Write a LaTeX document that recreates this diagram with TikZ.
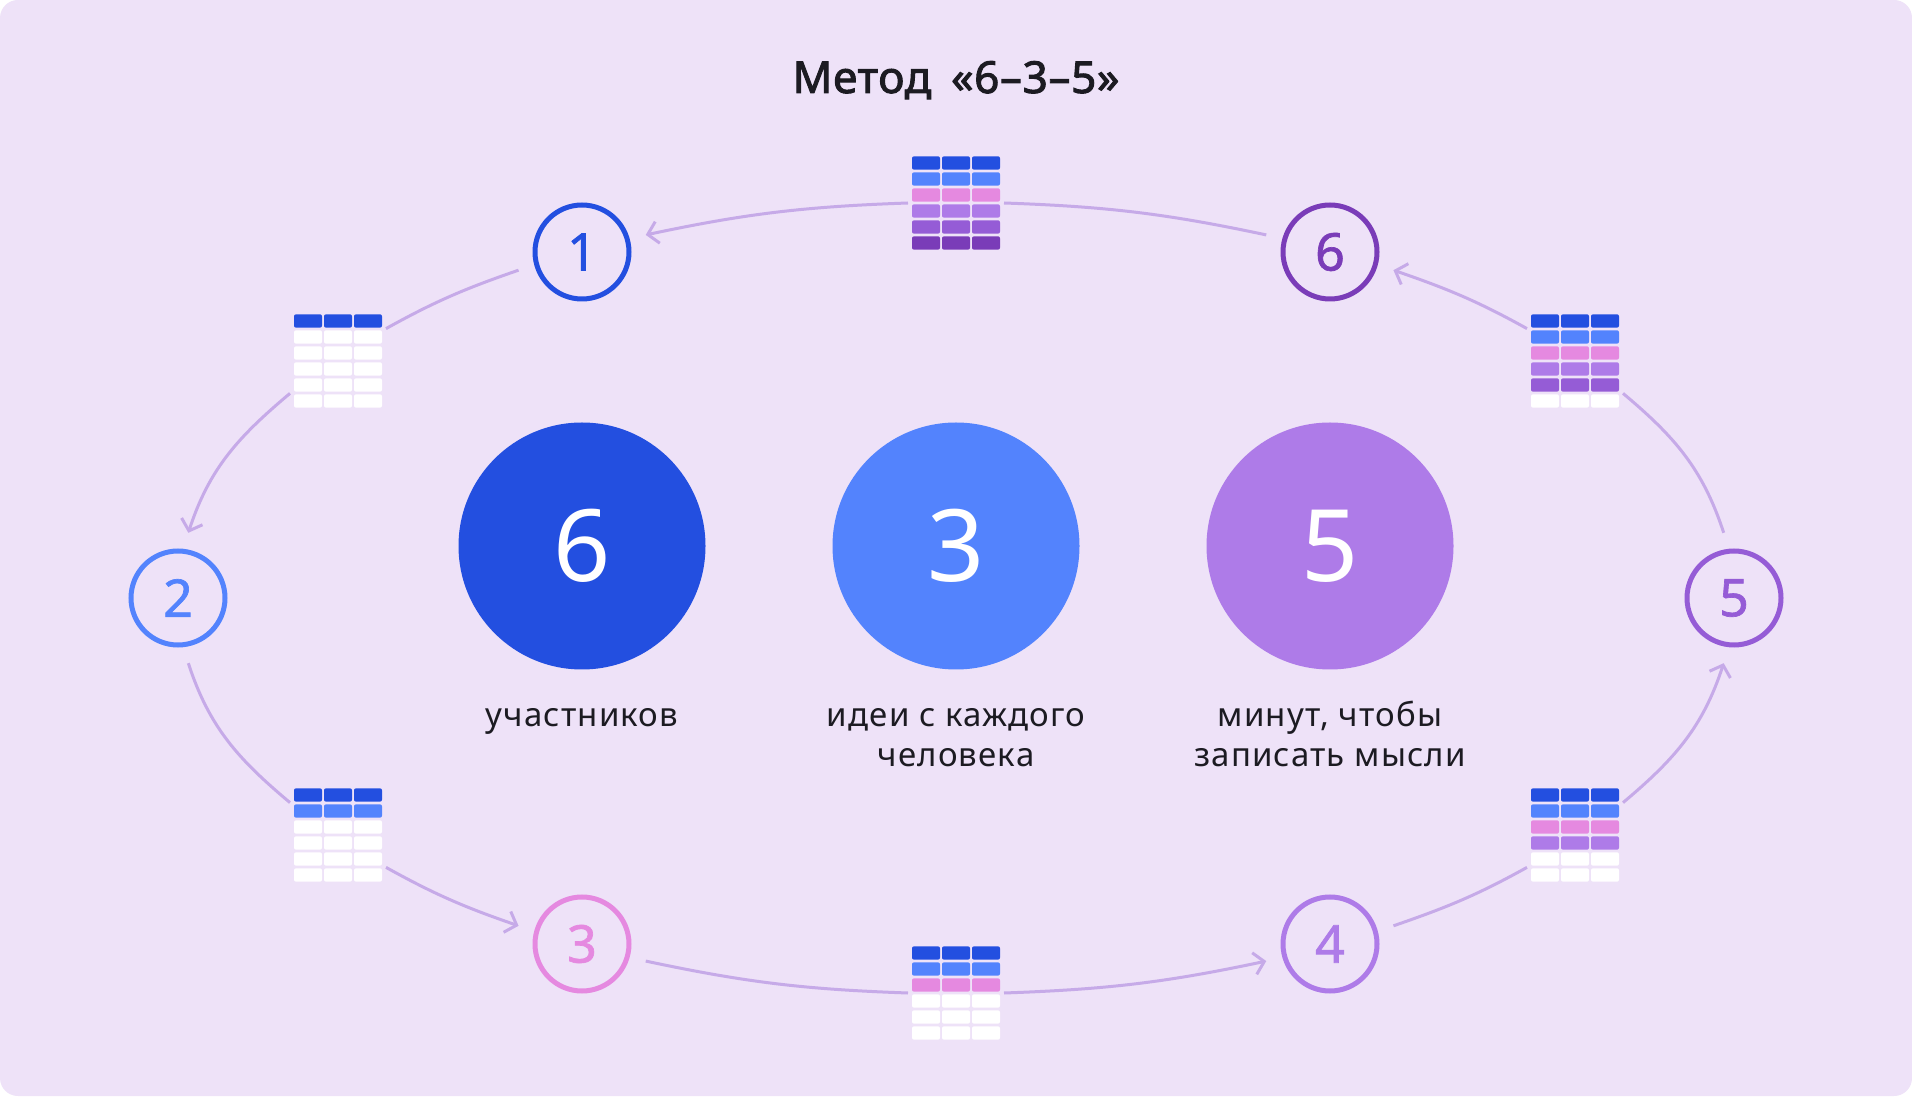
\documentclass[tikz,border=0pt]{standalone}
\usepackage{fontspec}
\setmainfont{Noto Sans}
\newfontfamily\titlefont{Noto Sans}[FakeBold=2.2, LetterSpace=1.5]
\newfontfamily\digitfont{Noto Sans}[FakeBold=1.3]
\newfontfamily\labelfont{Noto Sans}[LetterSpace=3.5]
\usetikzlibrary{arrows.meta,calc}
\definecolor{bg}{HTML}{EEE2F8}
\definecolor{cA}{HTML}{234FE0}
\definecolor{cB}{HTML}{5383FD}
\definecolor{cC}{HTML}{E589E0}
\definecolor{cD}{HTML}{AE7BE8}
\definecolor{cE}{HTML}{955CD6}
\definecolor{cF}{HTML}{7A3CB8}
\definecolor{cW}{HTML}{FFFFFF}
\definecolor{conn}{HTML}{C6AAE8}
\definecolor{ink}{HTML}{1C1B22}
\newcommand{\mytable}[3]{%
  \node[tbl] (#1) at #2 {};
  \foreach \cc [count=\rr from 0] in {#3} {
    \foreach \kk in {0,1,2} {
      \fill[fill=\cc, rounded corners=2pt] ($(#1.center)+(-44+30*\kk,46.7-16*\rr)$) rectangle ++(28,-13.4);
    }
  }
}
\begin{document}
\begin{tikzpicture}[x=1pt,y=1pt,
  numc/.style={circle, draw=#1, line width=5pt, minimum size=94pt, inner sep=0pt, outer sep=19pt, text=#1, font=\digitfont\fontsize{52}{52}\selectfont},
  bigc/.style={circle, fill=#1, minimum size=247pt, inner sep=0pt, text=white, font=\fontsize{100}{100}\selectfont},
  tbl/.style={rectangle, minimum width=88pt, minimum height=94pt, inner sep=0pt, outer sep=4pt},
  lbl/.style={text=ink, font=\labelfont\fontsize{33}{40}\selectfont, anchor=base, inner sep=0pt},
  link/.style={draw=conn, line width=3pt},
  arr/.style={link, -{Straight Barb[length=10pt, width=22pt]}}
]
\useasboundingbox (0,0) rectangle (1912,1096);
\fill[white] (0,0) rectangle (1912,1096);
\fill[bg, rounded corners=18pt] (0,0) rectangle (1912,1096);

% title
\node[anchor=base, text=ink, inner sep=0pt, font=\titlefont\fontsize{44}{50}\selectfont] (title) at (956,1003) {Метод\hspace{0.45em}«6–3–5»};

% participant circles
\node[numc=cA] (c1) at (582,844) {1};
\node[numc=cB] (c2) at (178,498) {2};
\node[numc=cC] (c3) at (582,152) {3};
\node[numc=cD] (c4) at (1330,152) {4};
\node[numc=cE] (c5) at (1734,498) {5};
\node[numc=cF] (c6) at (1330,844) {6};

% tables
\mytable{t0}{(956,893)}{cA,cB,cC,cD,cE,cF}
\mytable{t1}{(338,735)}{cA,cW,cW,cW,cW,cW}
\mytable{t2}{(338,261)}{cA,cB,cW,cW,cW,cW}
\mytable{t3}{(956,103)}{cA,cB,cC,cW,cW,cW}
\mytable{t4}{(1575,261)}{cA,cB,cC,cD,cW,cW}
\mytable{t5}{(1575,735)}{cA,cB,cC,cD,cE,cW}

% connectors
\draw[arr]  (t0.180) to[out=182, in=12]  (c1.15);
\draw[link] (c1.196) to[out=199, in=29]  (t1.34);
\draw[arr]  (t1.214) to[out=220, in=72]  (c2.81);
\draw[link] (c2.279) to[out=288, in=140] (t2.146);
\draw[arr]  (t2.326) to[out=331, in=161] (c3.164);
\draw[link] (c3.345) to[out=348, in=178] (t3.180);
\draw[arr]  (t3.0)   to[out=2,   in=192] (c4.195);
\draw[link] (c4.16)  to[out=19,  in=209] (t4.214);
\draw[arr]  (t4.34)  to[out=40,  in=252] (c5.261);
\draw[link] (c5.99)  to[out=108, in=320] (t5.326);
\draw[arr]  (t5.146) to[out=151, in=341] (c6.344);
\draw[link] (c6.165) to[out=168, in=358] (t0.0);

% big circles
\node[bigc=cA] (b6) at (582,550) {6};
\node[bigc=cB] (b3) at (956,550) {3};
\node[bigc=cD] (b5) at (1330,550) {5};

% labels
\node[lbl] (l1)  at (582,369)  {участников};
\node[lbl] (l2a) at (956,369)  {идеи с каждого};
\node[lbl] (l2b) at (956,329)  {человека};
\node[lbl] (l3a) at (1330,369) {минут, чтобы};
\node[lbl] (l3b) at (1330,329) {записать мысли};
\end{tikzpicture}
\end{document}
